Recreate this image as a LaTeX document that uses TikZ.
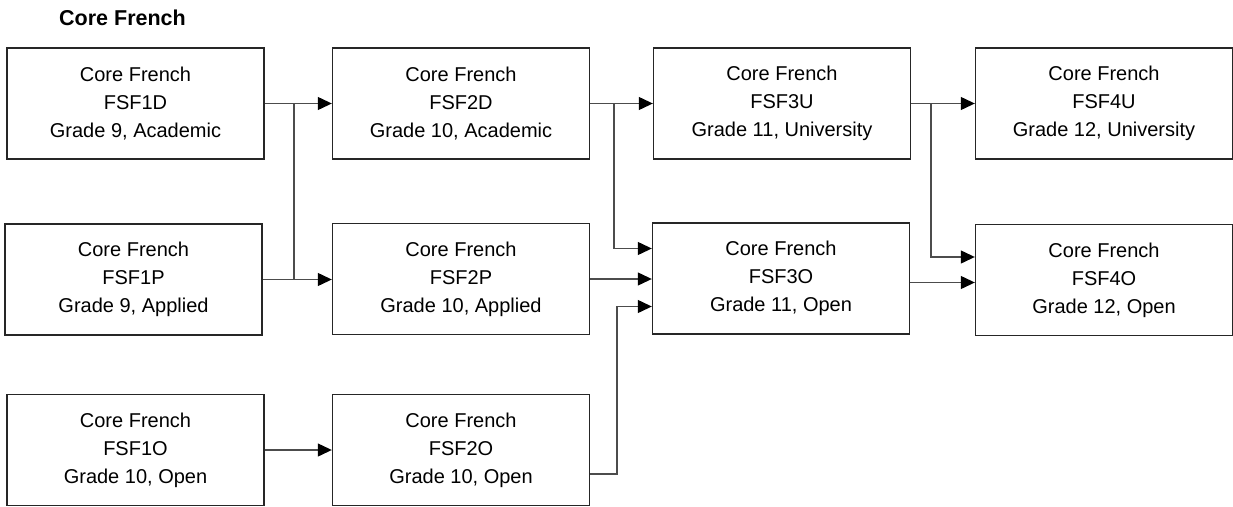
\documentclass[tikz,border=0pt]{standalone}
\usepackage{fontspec}
\setmainfont{Liberation Sans}
\usetikzlibrary{arrows.meta}

\begin{document}
\begin{tikzpicture}[x=1pt, y=-1pt,
		course/.style={draw=black!85, line width=1.4pt, minimum width=257pt, minimum height=111pt,
			inner sep=0pt, align=center, font=\fontsize{20}{28}\selectfont},
		link/.style={draw=black!70, line width=1.2pt},
		arr/.style={link, -{Triangle[length=14pt,width=13pt,color=black]}}]
	\useasboundingbox (0,0) rectangle (1233,506);
	\node[font=\bfseries\fontsize{21.5}{26}\selectfont] (title) at (122.5,18) {Core French};

	% grade 9 / 10
	\node[course] (fsf1d) at (135.5,103.5) {Core French\\FSF1D\\Grade 9, Academic};
	\node[course] (fsf1p) at (133.5,279.5) {Core French\\FSF1P\\Grade 9, Applied};
	\node[course] (fsf1o) at (135.5,450) {Core French\\FSF1O\\Grade 10, Open};
	\node[course] (fsf2d) at (461,103.5) {Core French\\FSF2D\\Grade 10, Academic};
	\node[course] (fsf2p) at (461,279) {Core French\\FSF2P\\Grade 10, Applied};
	\node[course] (fsf2o) at (461,450) {Core French\\FSF2O\\Grade 10, Open};
	% grade 11 / 12
	\node[course] (fsf3u) at (782,103.5) {Core French\\FSF3U\\Grade 11, University};
	\node[course] (fsf3o) at (781,278.5) {Core French\\FSF3O\\Grade 11, Open};
	\node[course] (fsf4u) at (1104,103.5) {Core French\\FSF4U\\Grade 12, University};
	\node[course] (fsf4o) at (1104,280) {Core French\\FSF4O\\Grade 12, Open};

	\coordinate (j1) at (294,0);
	\coordinate (j2) at (614,0);
	\coordinate (j3) at (617,0);
	\coordinate (j4) at (931,0);

	\draw[arr] (fsf1d) -- (fsf2d);
	\draw[arr] (fsf1p.east) -- (fsf1p.east -| fsf2p.west);
	\draw[link] (j1 |- fsf1d.east) -- (j1 |- fsf1p.east);
	\draw[arr] (fsf1o) -- (fsf2o);

	\draw[arr] (fsf2d) -- (fsf3u);
	\draw[arr] (j2 |- fsf2d.east) |- ([yshift=30pt]fsf3o.west);
	\draw[arr] (fsf2p.east) -- (fsf2p.east -| fsf3o.west);
	\draw[arr] ([yshift=-24pt]fsf2o.east) -- ([yshift=-24pt]fsf2o.east -| j3) |- ([yshift=-28pt]fsf3o.west);

	\draw[arr] (fsf3u) -- (fsf4u);
	\draw[arr] (j4 |- fsf3u.east) |- ([yshift=23pt]fsf4o.west);
	\draw[arr] ([yshift=-4pt]fsf3o.east) -- ([yshift=-4pt]fsf3o.east -| fsf4o.west);
\end{tikzpicture}
\end{document}
